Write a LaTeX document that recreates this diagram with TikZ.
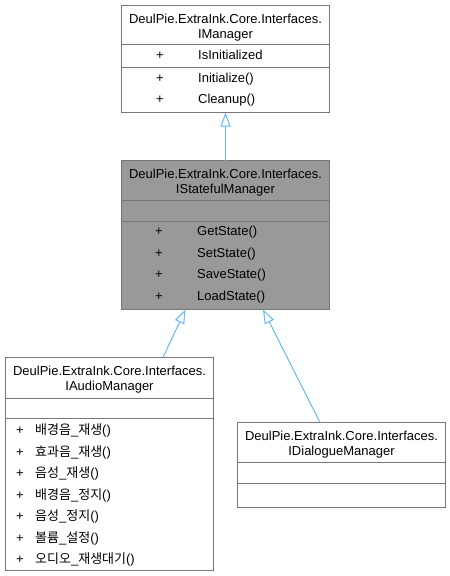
\documentclass[tikz,border=0pt]{standalone}
\usepackage{fontspec}
\setmainfont{Liberation Sans}
\newfontfamily\krfont{Noto Sans CJK KR}
\newcommand\kotxt[1]{{\krfont #1}}
\usetikzlibrary{arrows.meta}
\definecolor{edgeblue}{HTML}{63B8FF}
\definecolor{bordgray}{HTML}{777777}
\definecolor{hlgray}{HTML}{999999}
\begin{document}
\begin{tikzpicture}[x=1pt,y=-1pt,
  box/.style={draw=bordgray, line width=1pt, inner sep=0pt, outer sep=0pt, anchor=north west},
  divline/.style={draw=bordgray, line width=1pt},
  txt/.style={inner sep=0pt, font=\fontsize{13}{15}\selectfont, text=black},
  ctitle/.style={txt, anchor=base},
  vis/.style={txt, anchor=base},
  mem/.style={txt, anchor=base west},
  inh/.style={draw=edgeblue, line width=1pt, -{Triangle[open, length=14pt, width=10pt, fill=white]}}
]
\useasboundingbox (0,0) rectangle (450,576);

% ---------- IManager ----------
\node[box, fill=white, minimum width=208pt, minimum height=107pt] (mgr) at (121.5,5.5) {};
\draw[divline] ([yshift=-39pt]mgr.north west) -- ([yshift=-39pt]mgr.north east);
\draw[divline] ([yshift=-62pt]mgr.north west) -- ([yshift=-62pt]mgr.north east);
\node[ctitle] (mgrT1) at (225.5,23.5) {DeulPie.ExtraInk.Core.Interfaces.};
\node[ctitle] (mgrT2) at (225.5,38.5) {IManager};
\node[vis] (mgrV1) at (160,59.5) {+};
\node[mem] (mgrA1) at (198,59.5) {IsInitialized};
\node[vis] (mgrV2) at (160,82.5) {+};
\node[mem] (mgrM1) at (198,82.5) {Initialize()};
\node[vis] (mgrV3) at (160,103.5) {+};
\node[mem] (mgrM2) at (198,103.5) {Cleanup()};

% ---------- IStatefulManager ----------
\node[box, fill=hlgray, minimum width=208pt, minimum height=149pt] (sfm) at (121.5,160.5) {};
\draw[divline] ([yshift=-40pt]sfm.north west) -- ([yshift=-40pt]sfm.north east);
\draw[divline] ([yshift=-61pt]sfm.north west) -- ([yshift=-61pt]sfm.north east);
\node[ctitle] (sfmT1) at (225.5,178.5) {DeulPie.ExtraInk.Core.Interfaces.};
\node[ctitle] (sfmT2) at (225.5,193.5) {IStatefulManager};
\node[vis] (sfmV1) at (159,235.5) {+};
\node[mem] (sfmM1) at (197,235.5) {GetState()};
\node[vis] (sfmV2) at (159,257.5) {+};
\node[mem] (sfmM2) at (197,257.5) {SetState()};
\node[vis] (sfmV3) at (159,278.5) {+};
\node[mem] (sfmM3) at (197,278.5) {SaveState()};
\node[vis] (sfmV4) at (159,300.5) {+};
\node[mem] (sfmM4) at (197,300.5) {LoadState()};

% ---------- IAudioManager ----------
\node[box, fill=white, minimum width=208pt, minimum height=213pt] (aud) at (5.5,357.5) {};
\draw[divline] ([yshift=-41pt]aud.north west) -- ([yshift=-41pt]aud.north east);
\draw[divline] ([yshift=-61pt]aud.north west) -- ([yshift=-61pt]aud.north east);
\node[ctitle] (audT1) at (109.5,375.5) {DeulPie.ExtraInk.Core.Interfaces.};
\node[ctitle] (audT2) at (109.5,390.5) {IAudioManager};
\node[vis] (audV1) at (20,434.5) {+};
\node[mem] (audM1) at (35,434.5) {\kotxt{배경음}\_\kotxt{재생}()};
\node[vis] (audV2) at (20,456) {+};
\node[mem] (audM2) at (35,456) {\kotxt{효과음}\_\kotxt{재생}()};
\node[vis] (audV3) at (20,477.5) {+};
\node[mem] (audM3) at (35,477.5) {\kotxt{음성}\_\kotxt{재생}()};
\node[vis] (audV4) at (20,499) {+};
\node[mem] (audM4) at (35,499) {\kotxt{배경음}\_\kotxt{정지}()};
\node[vis] (audV5) at (20,520.5) {+};
\node[mem] (audM5) at (35,520.5) {\kotxt{음성}\_\kotxt{정지}()};
\node[vis] (audV6) at (20,542) {+};
\node[mem] (audM6) at (35,542) {\kotxt{볼륨}\_\kotxt{설정}()};
\node[vis] (audV7) at (20,563.5) {+};
\node[mem] (audM7) at (35,563.5) {\kotxt{오디오}\_\kotxt{재생대기}()};

% ---------- IDialogueManager ----------
\node[box, fill=white, minimum width=208pt, minimum height=85pt] (dlg) at (237.5,422.5) {};
\draw[divline] ([yshift=-40pt]dlg.north west) -- ([yshift=-40pt]dlg.north east);
\draw[divline] ([yshift=-61pt]dlg.north west) -- ([yshift=-61pt]dlg.north east);
\node[ctitle] (dlgT1) at (341.5,440) {DeulPie.ExtraInk.Core.Interfaces.};
\node[ctitle] (dlgT2) at (341.5,455) {IDialogueManager};

% ---------- inheritance edges ----------
\coordinate (audTail) at (163,357.5);
\coordinate (audTip) at (185.5,309.5);
\coordinate (dlgTail) at (320,422.5);
\coordinate (dlgTip) at (263,309.5);
\draw[inh] (sfm.north) -- (mgr.south);
\draw[inh] (audTail) -- (audTip);
\draw[inh] (dlgTail) -- (dlgTip);
\end{tikzpicture}
\end{document}
